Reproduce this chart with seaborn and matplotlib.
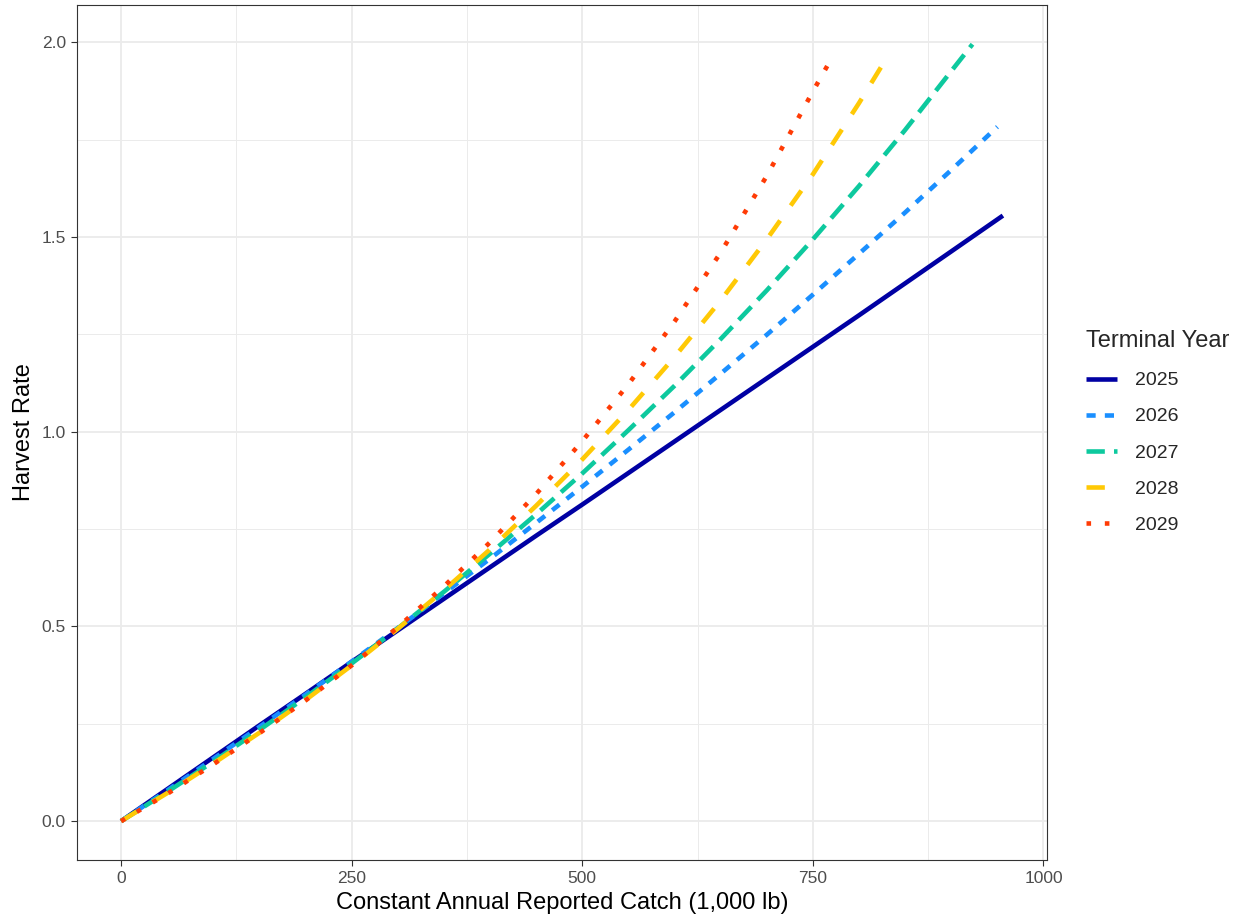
import numpy as np
import pandas as pd
import matplotlib
matplotlib.use("Agg")
import matplotlib.pyplot as plt
import seaborn as sns
from matplotlib.ticker import MultipleLocator
from matplotlib.lines import Line2D

# Harvest rate by constant annual reported catch (1,000 lb), per terminal year
catch_2025 = [0, 50, 100, 150, 200, 250, 300, 350, 400, 450, 500, 550, 600, 650, 700, 750, 800, 850, 900, 956]
rate_2025 = [0.0, 0.082, 0.164, 0.246, 0.327, 0.409, 0.490, 0.571, 0.652, 0.733, 0.813, 0.894, 0.975,
             1.056, 1.137, 1.218, 1.299, 1.381, 1.463, 1.555]

catch_2026 = [0, 50, 100, 150, 200, 250, 300, 350, 400, 450, 500, 550, 600, 650, 700, 750, 800, 850, 900, 950]
rate_2026 = [0.0, 0.079, 0.160, 0.242, 0.325, 0.410, 0.496, 0.585, 0.674, 0.766, 0.859, 0.954, 1.050,
             1.149, 1.249, 1.352, 1.457, 1.563, 1.672, 1.783]

catch_2027 = [0, 50, 100, 150, 200, 250, 300, 350, 400, 450, 500, 550, 600, 650, 700, 750, 800, 850, 900, 923]
rate_2027 = [0.0, 0.075, 0.153, 0.234, 0.318, 0.405, 0.495, 0.589, 0.687, 0.788, 0.893, 1.004, 1.118,
             1.238, 1.363, 1.494, 1.631, 1.775, 1.926, 1.995]

catch_2028 = [0, 50, 100, 150, 200, 250, 300, 350, 400, 450, 500, 550, 600, 650, 700, 750, 800, 830]
rate_2028 = [0.0, 0.072, 0.148, 0.227, 0.311, 0.400, 0.494, 0.593, 0.698, 0.810, 0.929, 1.056, 1.192,
             1.337, 1.494, 1.661, 1.844, 1.960]

catch_2029 = [0, 50, 100, 150, 200, 250, 300, 350, 400, 450, 500, 550, 600, 650, 700, 750, 771]
rate_2029 = [0.0, 0.070, 0.146, 0.226, 0.310, 0.400, 0.498, 0.603, 0.716, 0.840, 0.976, 1.122, 1.283,
             1.460, 1.657, 1.874, 1.962]

years = ["2025", "2026", "2027", "2028", "2029"]
colors = ["#0000A3", "#1A8FFF", "#0DC99E", "#FFC905", "#FF3B05"]
dash_patterns = ["", (2, 2), (4, 2), (4, 4), (1, 3)]

series = {
    "2025": (catch_2025, rate_2025),
    "2026": (catch_2026, rate_2026),
    "2027": (catch_2027, rate_2027),
    "2028": (catch_2028, rate_2028),
    "2029": (catch_2029, rate_2029),
}
frames = [pd.DataFrame({"catch": c, "rate": r, "year": y}) for y, (c, r) in series.items()]
df = pd.concat(frames, ignore_index=True)

sns.set_theme(style="white")
plt.rcParams["font.family"] = ["Liberation Sans", "DejaVu Sans"]

fig = plt.figure(figsize=(12.41, 9.22), dpi=100)
ax = fig.add_axes([77 / 1241, 1 - 860 / 922, (1047 - 77) / 1241, (860 - 5) / 922])

# Grid (major + minor) behind the data
ax.set_axisbelow(True)
ax.xaxis.set_major_locator(MultipleLocator(250))
ax.xaxis.set_minor_locator(MultipleLocator(125))
ax.yaxis.set_major_locator(MultipleLocator(0.5))
ax.yaxis.set_minor_locator(MultipleLocator(0.25))
ax.grid(which="major", color="#EBEBEB", linewidth=1.3)
ax.grid(which="minor", color="#EBEBEB", linewidth=0.7)

sns.lineplot(
    data=df, x="catch", y="rate", hue="year", style="year",
    hue_order=years, style_order=years,
    palette=dict(zip(years, colors)),
    dashes=dict(zip(years, dash_patterns)),
    linewidth=3.3, ax=ax, legend=False, sort=True,
)
for line in ax.get_lines():
    line.set_dash_capstyle("butt")
    line.set_solid_capstyle("butt")

ax.set_xlim(-47.8, 1003.8)
ax.set_ylim(-0.0998, 2.0958)
ax.set_xticks([0, 250, 500, 750, 1000])
ax.set_xticklabels(["0", "250", "500", "750", "1000"])
ax.set_yticks([0.0, 0.5, 1.0, 1.5, 2.0])
ax.set_yticklabels(["0.0", "0.5", "1.0", "1.5", "2.0"])

for spine in ax.spines.values():
    spine.set_visible(True)
    spine.set_color("#333333")
    spine.set_linewidth(0.8)

ax.tick_params(axis="both", which="major", bottom=True, left=True, length=4, width=0.8,
               color="#333333", labelsize=12.5, labelcolor="#4D4D4D", pad=4)
ax.tick_params(axis="both", which="minor", length=0)

ax.set_xlabel("Constant Annual Reported Catch (1,000 lb)", fontsize=17, color="black", labelpad=4)
ax.set_ylabel("Harvest Rate", fontsize=17, color="black", labelpad=5)

# Legend outside the panel on the right
handles = []
for y, c, d in zip(years, colors, dash_patterns):
    h = Line2D([0], [0], color=c, linewidth=3.3, solid_capstyle="butt", dash_capstyle="butt")
    if d:
        h.set_dashes(d)
    handles.append(h)
leg = fig.legend(
    handles, years, title="Terminal Year", loc="center left",
    bbox_to_anchor=(1086 / 1241, 1 - 432 / 922), frameon=False,
    fontsize=14, title_fontsize=17, handlelength=1.6, handletextpad=0.9,
    labelspacing=0.95, borderaxespad=0, borderpad=0,
)
leg._legend_box.align = "left"
leg._legend_box.sep = 14

fig.savefig("out.png", dpi=100)
